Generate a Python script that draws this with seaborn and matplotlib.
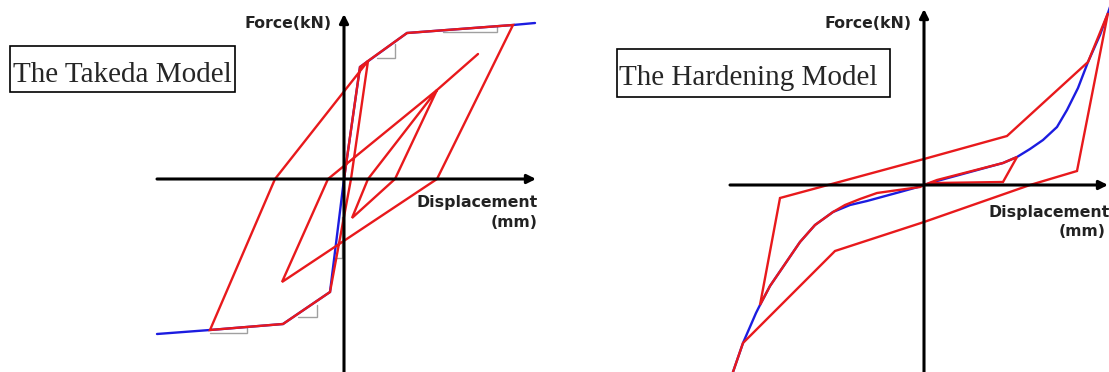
import matplotlib.pyplot as plt
import seaborn as sns
from matplotlib.patches import Rectangle
import pandas as pd

# ---- Takeda model: displacement / force in drawing units, origin = axis crossing
takeda_path_x = [0, 16, 24, 7, -14, -61, -134, -69, 24, 63, 169, 93, -62, -16, 93, 51, 8, 24, 93, 134]
takeda_path_y = [0, 112, 118, 0, -113, -145, -151, 0, 118, 146, 154, 0, -103, 0, 89, 0, -39, 0, 89, 125]
takeda_skel_neg_x = [0, -14, -61, -134, -187]
takeda_skel_neg_y = [0, -113, -145, -151, -155]
takeda_skel_pos_x = [0, 16, 63, 169, 191]
takeda_skel_pos_y = [0, 112, 146, 154, 156]
# little slope marks (grey)
takeda_marks = [
    ([33, 51, 51], [121, 121, 135]),
    ([99, 153, 153], [147, 147, 152]),
    ([-9, -2, -2], [-79, -79, -38]),
    ([-46, -27, -27], [-138, -138, -126]),
    ([-134, -97, -97], [-154, -154, -148]),
]

# ---- Hardening model
hard_path_x = [0, 13, 79, 93, 79, 12, 0, -4, -47, -64, -79, -91, -109, -124, -139, -154, -164,
               -144, 0, 83, 164, 184, 153, 106, 0, -89, -181, -191, -196]
hard_path_y = [0, 5, 22, 28, 3, 2, 0, -2, -8, -14, -20, -27, -40, -57, -79, -101, -120,
               -13, 26, 49, 123, 172, 14, 0, -37, -66, -158, -187, -200]
hard_skel_pos_x = [0, 13, 46, 79, 93, 106, 119, 133, 143, 154, 164, 176, 184, 190]
hard_skel_pos_y = [0, 4, 13, 22, 28, 36, 45, 58, 75, 97, 123, 150, 172, 190]
hard_skel_neg_x = [0, -6, -24, -57, -74, -91, -109, -124, -139, -154, -164, -168, -181, -191, -196]
hard_skel_neg_y = [0, -2, -7, -16, -20, -27, -40, -57, -79, -101, -120, -128, -158, -187, -200]

RED = "#e8191c"
BLUE = "#1c1ce0"
LABEL = "#222222"

sns.set_style("white")
plt.rcParams["font.family"] = ["DejaVu Sans"]


def line(ax, xs, ys, color, lw):
    df = pd.DataFrame({"d": xs, "f": ys})
    sns.lineplot(data=df, x="d", y="f", sort=False, estimator=None, color=color,
                 lw=lw, ax=ax, solid_joinstyle="miter")


def arrow_axes(ax, hx, vy):
    kw = dict(arrowstyle="-|>", lw=2.2, color="black", mutation_scale=13,
              shrinkA=0, shrinkB=0)
    ax.annotate("", xy=(hx[1], 0), xytext=(hx[0], 0), arrowprops=kw)
    ax.annotate("", xy=(0, vy[1]), xytext=(0, vy[0]), arrowprops=kw)


def panel(ax, xlim, ylim, hx, vy, skel, path, marks, title, box, title_pos,
          force_pos, disp_pos, mm_pos):
    ax.set_xlim(*xlim)
    ax.set_ylim(*ylim)
    ax.axis("off")
    arrow_axes(ax, hx, vy)
    for xs, ys in marks:
        line(ax, xs, ys, "#a0a0a0", 1.0)
    for xs, ys in skel:
        line(ax, xs, ys, BLUE, 1.7)
    line(ax, path[0], path[1], RED, 1.7)

    ax.add_patch(Rectangle((box[0], box[1]), box[2], box[3], fill=False,
                           lw=1.2, ec="black"))
    ax.text(title_pos[0], title_pos[1], title, family="Liberation Serif",
            fontsize=21, ha="left", va="baseline")
    ax.text(*force_pos, "Force(kN)", fontsize=11.3, weight="bold", color=LABEL,
            ha="right", va="center")
    ax.text(*disp_pos, "Displacement", fontsize=11.3, weight="bold", color=LABEL,
            ha="right", va="center")
    ax.text(*mm_pos, "(mm)", fontsize=11.3, weight="bold", color=LABEL,
            ha="right", va="center")


fig = plt.figure(figsize=(11.09, 3.72), dpi=100)
ax1 = fig.add_axes([0, 0, 560 / 1109, 1])
ax2 = fig.add_axes([560 / 1109, 0, 549 / 1109, 1])

panel(ax1, (-344, 216), (-193, 179), (-187, 192), (-200, 165),
      [(takeda_skel_neg_x, takeda_skel_neg_y), (takeda_skel_pos_x, takeda_skel_pos_y)],
      (takeda_path_x, takeda_path_y), takeda_marks,
      "The Takeda Model", (-334, 87, 225, 46), (-331, 97),
      (-12, 156), (194, -24), (194, -44))

panel(ax2, (-364, 185), (-187, 185), (-194, 184), (-200, 176),
      [(hard_skel_neg_x, hard_skel_neg_y), (hard_skel_pos_x, hard_skel_pos_y)],
      (hard_path_x, hard_path_y), [],
      "The Hardening Model", (-307, 88, 273, 48), (-305, 100),
      (-12, 161), (186, -27), (182, -47))

fig.savefig("out.png", dpi=100)
